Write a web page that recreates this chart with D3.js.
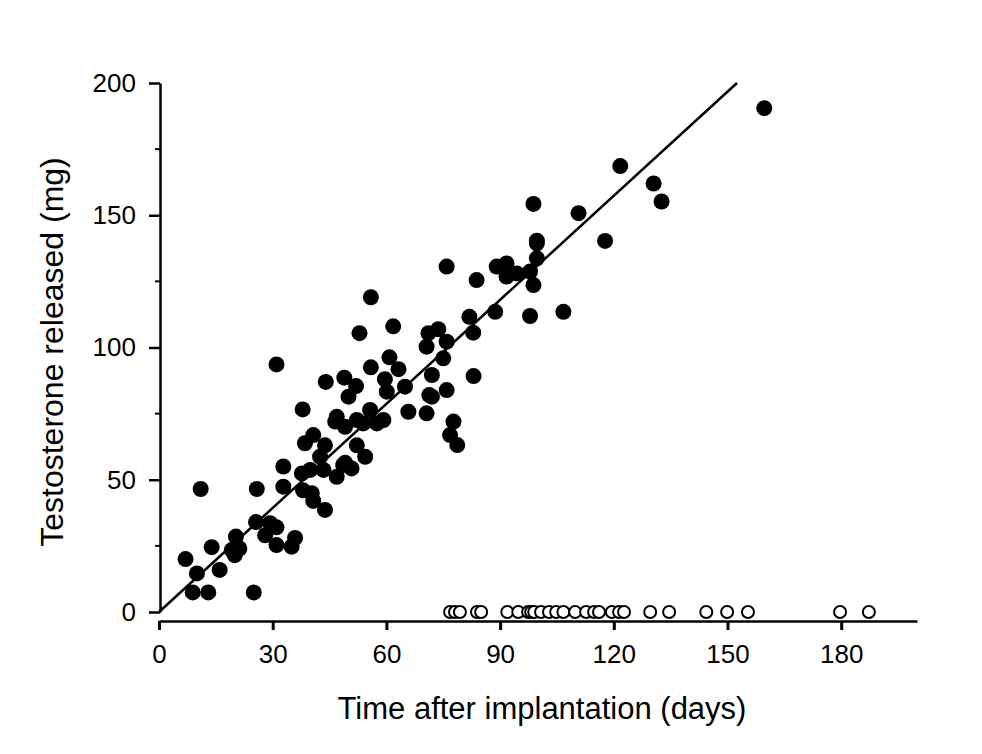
<!DOCTYPE html>
<html>
<head>
<meta charset="utf-8">
<script src="https://cdn.jsdelivr.net/npm/d3@7"></script>
<style>
  body { margin: 0; background: #fff; }
  svg text { font-family: "Liberation Sans", Arial, Helvetica, sans-serif; fill: #000; }
</style>
</head>
<body>
<div id="chart"></div>
<script>
// released testosterone: [days, mg]
const releasedDays = [7, 8.9, 13, 25, 11, 10, 13.9, 16, 19.2, 20.3, 20, 21.2, 25.8, 25.6, 28, 29.3, 31, 31, 35, 35.9,
  32.8, 32.8, 38, 40.3, 43.8, 40.7, 38.5, 40.7, 43.8, 42.5, 43.4, 37.7, 39.9, 46.9, 48.6, 46.5,
  55.9, 52.9, 61.8, 31, 37.9, 44, 48.9, 52, 50, 55.9, 60.8, 63.2, 59.6, 60.1, 64.9, 71.1, 70.6, 71.3, 70.6,
  65.8, 55.7, 59.2, 57.5, 53.9, 52.2, 46.9, 49.1, 52.2, 54.4, 49.1, 50.8,
  75.9, 83.8, 89.1, 91.7, 91.7, 94.4, 97.9, 99.7, 99.7, 98.8, 97.9, 106.7, 88.7, 81.9, 82.9, 73.7,
  75.9, 75, 72, 75.9, 83, 72, 77.7, 76.8, 78.7, 121.7, 130.5, 132.6, 98.8, 110.7, 117.7, 99.7, 159.7];
const releasedMg = [20, 7.4, 7.4, 7.4, 46.5, 14.6, 24.5, 15.9, 23.4, 28.5, 21.5, 24, 46.5, 34, 29, 33.6, 32, 25.3, 24.7, 28,
  55, 47.4, 46, 44.9, 38.6, 42, 63.8, 66.9, 63, 58.7, 53.7, 52.4, 53.7, 51.1, 55.6, 72,
  119, 105.4, 108, 93.6, 76.6, 87, 88.6, 85.4, 81.4, 92.5, 96.3, 91.8, 88, 83.3, 85.2, 105.4, 100.3, 82, 75.1,
  75.7, 76.4, 72.6, 71.3, 71.3, 72.6, 73.8, 70, 63, 58.7, 56.4, 54.3,
  130.6, 125.5, 130.6, 131.8, 126.8, 128, 128.7, 133.7, 139.4, 123.6, 111.9, 113.5, 113.5, 111.6, 105.6, 106.9,
  102.2, 95.9, 89.6, 83.9, 89.2, 81.4, 72, 66.9, 63.1, 168.6, 162, 155.2, 154.3, 150.8, 140.3, 140.4, 190.5];

// implants with nothing released (plotted at 0 mg)
const emptyDays = [76.8, 78.1, 79.4, 83.9, 85, 91.9, 94.8, 97.4, 98.2, 99, 100.8, 102.9, 104.8, 106.7, 109.8,
  112.7, 114.8, 116.1, 119.5, 121.4, 122.7, 129.6, 134.6, 144.4, 149.9, 155.4, 179.7, 187.3];

// regression line ends
const fitDays = [0, 152.5];
const fitMg = [0, 200];

const xTicks = [0, 30, 60, 90, 120, 150, 180];
const yTicks = [0, 50, 100, 150, 200];
const yMinorTicks = [25, 75, 125, 175];

const width = 982;
const height = 754;

const svg = d3.select("#chart").append("svg")
  .attr("width", width)
  .attr("height", height);

const x = d3.scaleLinear().domain([0, 200]).range([159, 917]);
const y = d3.scaleLinear().domain([0, 200]).range([612, 83]);

// y axis
const yAxis = svg.append("g")
  .attr("transform", "translate(160,0)")
  .call(d3.axisLeft(y).tickValues(yTicks).tickSize(11).tickPadding(13).tickSizeOuter(0));
yAxis.select(".domain").attr("stroke-width", 2.5);
yAxis.selectAll(".tick line").attr("stroke-width", 2.5);
yAxis.selectAll(".tick text").style("font-size", "26px");

svg.append("g")
  .attr("transform", "translate(160,0)")
  .selectAll("line")
  .data(yMinorTicks)
  .join("line")
  .attr("x1", -5).attr("x2", 0)
  .attr("y1", d => y(d)).attr("y2", d => y(d))
  .attr("stroke", "#000").attr("stroke-width", 2);

// x axis, sits a little below zero
const xAxis = svg.append("g")
  .attr("transform", "translate(0,621)")
  .call(d3.axisBottom(x).tickValues(xTicks).tickSize(9).tickPadding(15).tickSizeOuter(0));
xAxis.select(".domain").attr("stroke-width", 2.5);
xAxis.selectAll(".tick line").attr("stroke-width", 3);
xAxis.selectAll(".tick text").style("font-size", "26px");

// fit line
svg.append("line")
  .attr("x1", x(fitDays[0])).attr("y1", y(fitMg[0]))
  .attr("x2", x(fitDays[1])).attr("y2", y(fitMg[1]))
  .attr("stroke", "#000").attr("stroke-width", 2.5);

// open circles
svg.append("g").selectAll("circle")
  .data(emptyDays)
  .join("circle")
  .attr("cx", d => x(d))
  .attr("cy", y(0))
  .attr("r", 6)
  .attr("fill", "#fff")
  .attr("stroke", "#000")
  .attr("stroke-width", 2);

// filled dots
svg.append("g").selectAll("circle")
  .data(releasedDays.map((d, i) => [d, releasedMg[i]]))
  .join("circle")
  .attr("cx", d => x(d[0]))
  .attr("cy", d => y(d[1]))
  .attr("r", 8)
  .attr("fill", "#000");

// axis titles
svg.append("text")
  .attr("x", 542).attr("y", 719)
  .attr("text-anchor", "middle")
  .style("font-size", "31px")
  .text("Time after implantation (days)");

svg.append("text")
  .attr("transform", "translate(63,352) rotate(-90)")
  .attr("text-anchor", "middle")
  .style("font-size", "32px")
  .text("Testosterone released (mg)");
</script>
</body>
</html>
